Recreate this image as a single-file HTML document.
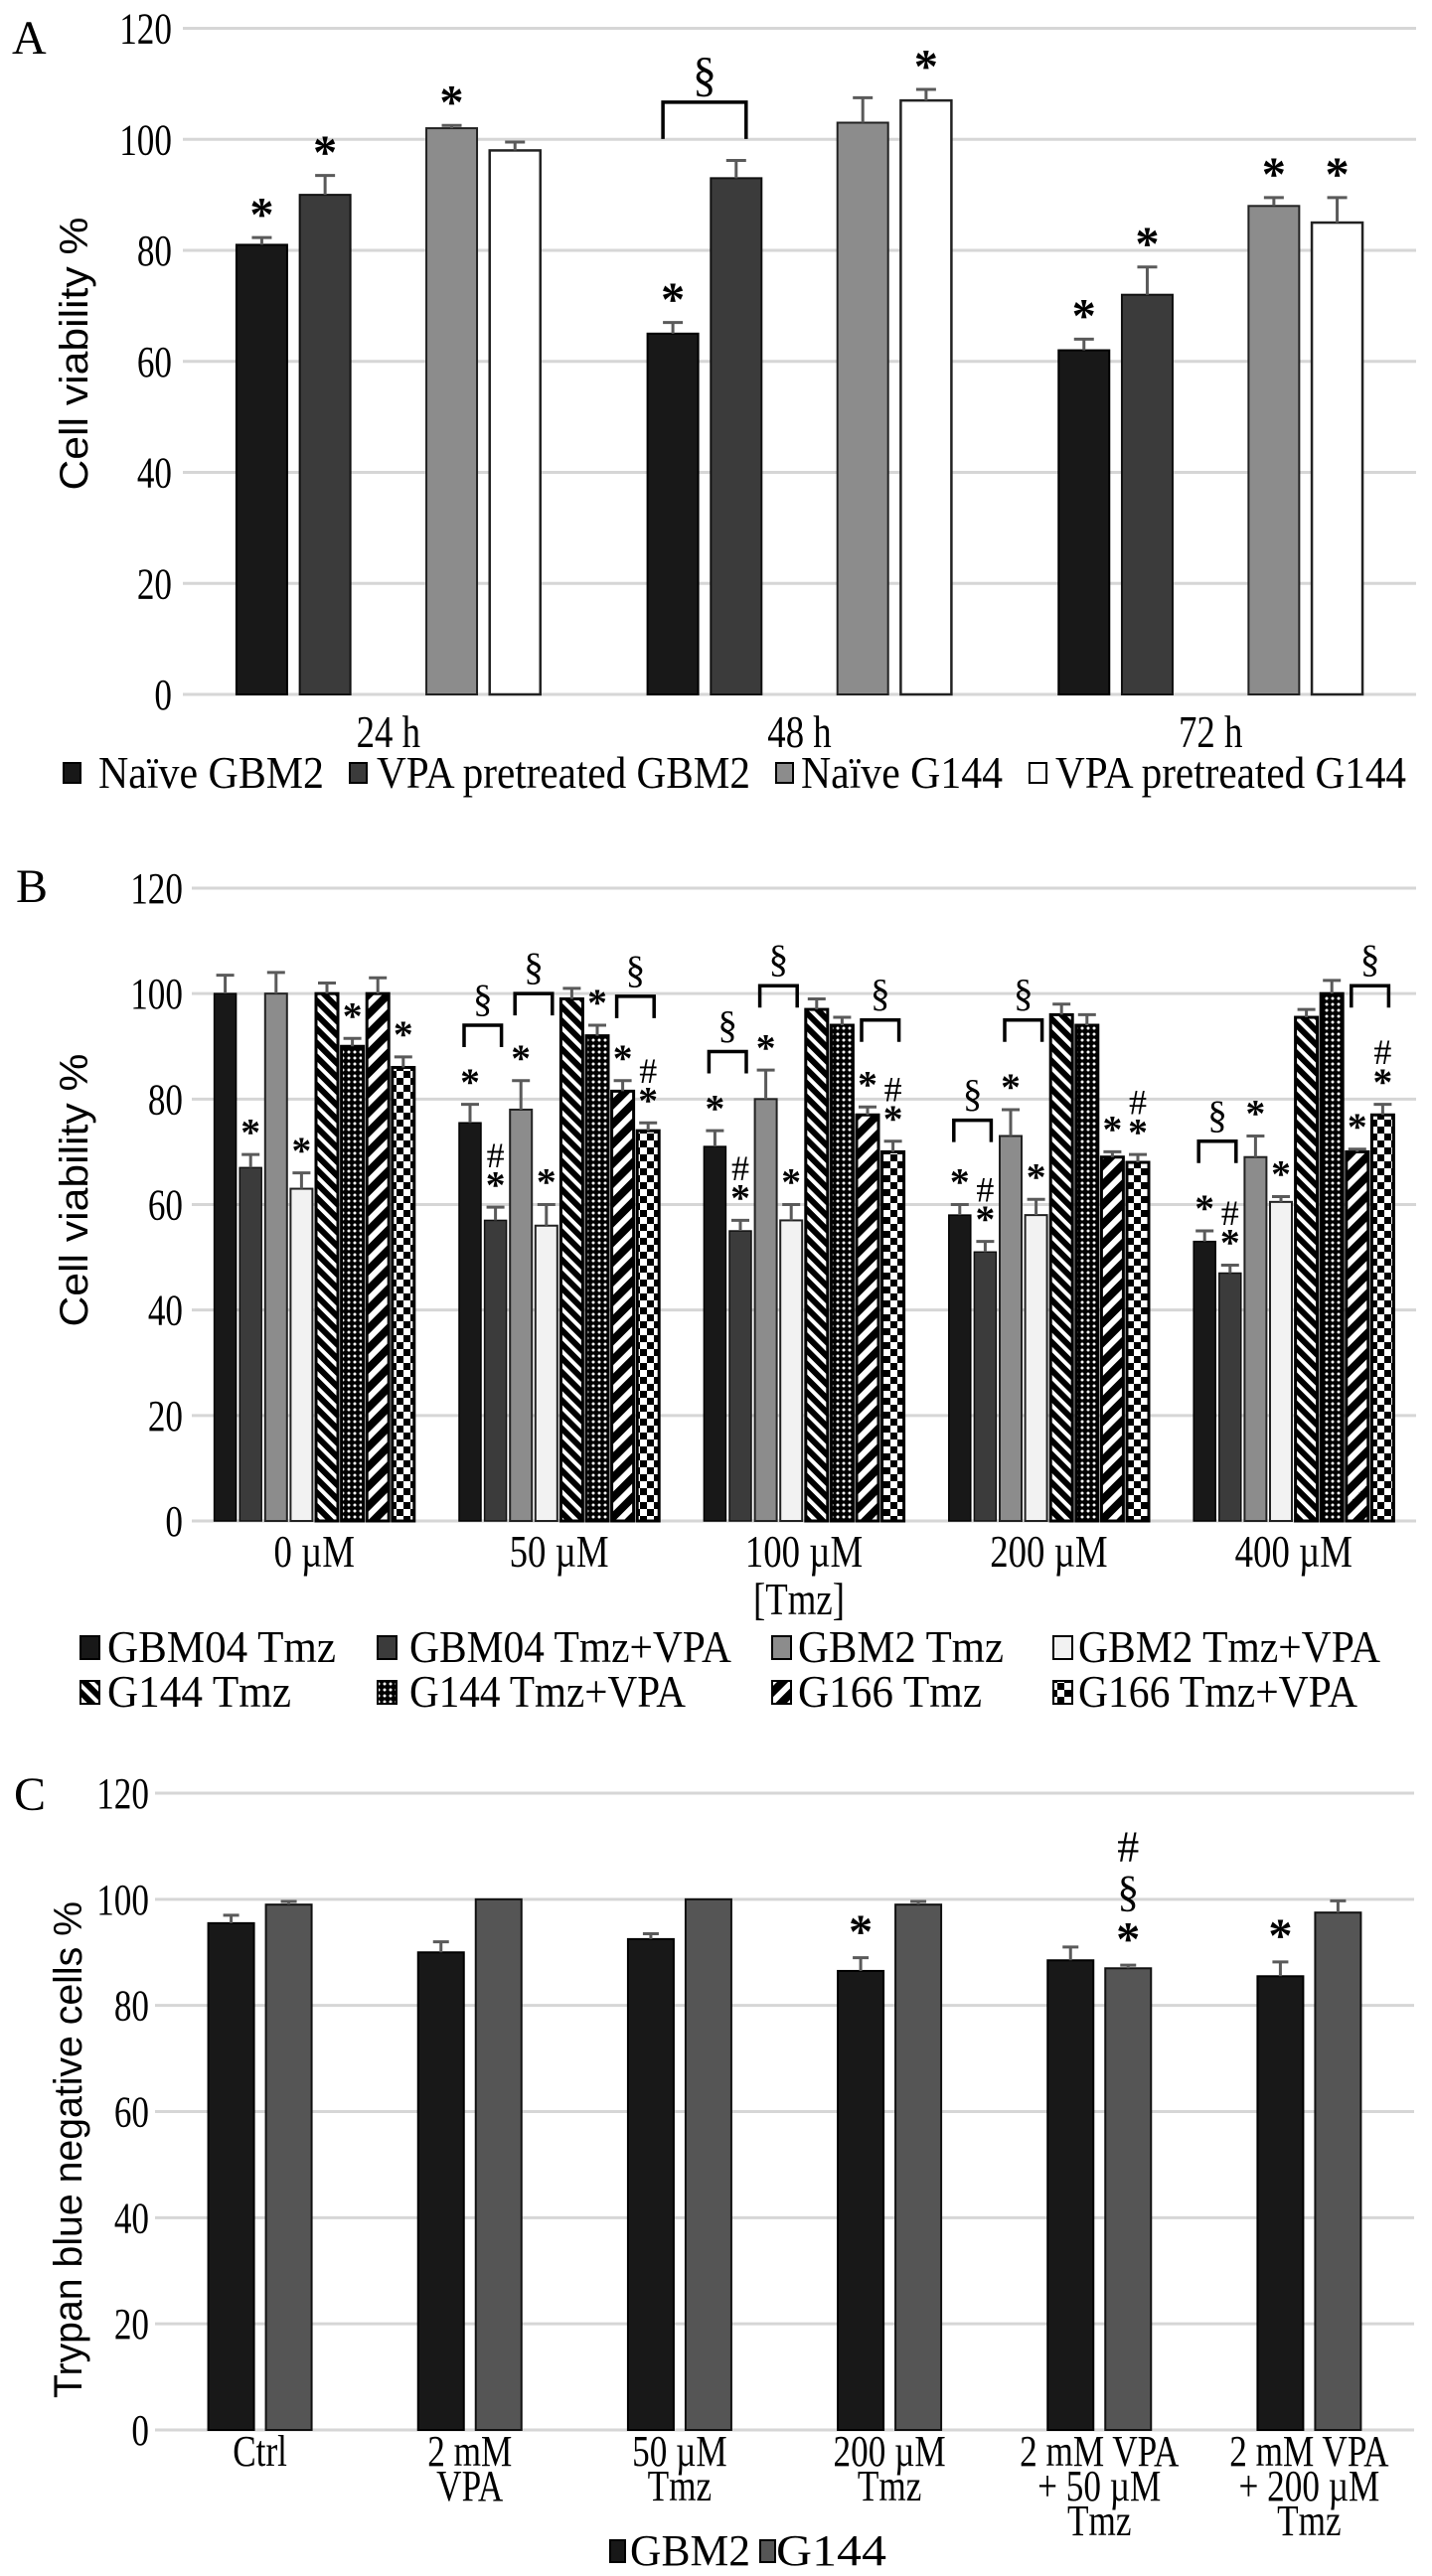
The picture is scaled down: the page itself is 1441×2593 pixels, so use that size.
<!DOCTYPE html>
<html><head><meta charset="utf-8">
<style>
html,body{margin:0;padding:0;background:#fff;}
svg{display:block;}
text{font-family:"Liberation Serif",serif;fill:#000;}
.yt{font-family:"Liberation Sans",sans-serif;}
</style></head>
<body>
<svg id="fig" width="1441" height="2593" viewBox="0 0 1441 2593" xmlns="http://www.w3.org/2000/svg">
<defs>
<pattern id="pG144" patternUnits="userSpaceOnUse" width="10" height="10" patternTransform="rotate(-45)"><rect width="10" height="10" fill="#fff"/><rect width="6" height="10" fill="#000"/></pattern>
<pattern id="pG144V" patternUnits="userSpaceOnUse" width="6" height="6"><rect width="6" height="6" fill="#000"/><circle cx="3" cy="3" r="1.5" fill="#fff"/></pattern>
<pattern id="pG166" patternUnits="userSpaceOnUse" width="14" height="14" patternTransform="rotate(45)"><rect width="14" height="14" fill="#fff"/><rect width="8" height="14" fill="#000"/></pattern>
<pattern id="pG166V" patternUnits="userSpaceOnUse" width="14" height="14" x="0" y="0"><rect width="14" height="14" fill="#fff"/><rect width="7" height="7" fill="#000"/><rect x="7" y="7" width="7" height="7" fill="#000"/></pattern>
</defs>
<text x="12" y="54" font-size="48">A</text>
<text x="16" y="908" font-size="48">B</text>
<text x="14" y="1822" font-size="48">C</text>
</svg>
<script>
// ---------- Panel A data ----------
const aCategories = ["24 h", "48 h", "72 h"];
const aSeries = ["Naïve GBM2", "VPA pretreated  GBM2", "", "Naïve G144", "VPA pretreated  G144"];
const aNaiveGBM2 = [81, 65, 62];
const aVpaGBM2 = [90, 93, 72];
const aNaiveG144 = [102, 103, 88];
const aVpaG144 = [98, 107, 85];
const aErrNaiveGBM2 = [1.3, 2, 2];
const aErrVpaGBM2 = [3.5, 3.2, 5];
const aErrNaiveG144 = [0.5, 4.5, 1.5];
const aErrVpaG144 = [1.5, 2, 4.5];
const aTicks = [0, 20, 40, 60, 80, 100, 120];
const aMarks = [[0,0,"*"],[0,1,"*"],[0,3,"*"],[1,0,"*"],[1,4,"*"],[2,0,"*"],[2,1,"*"],[2,3,"*"],[2,4,"*"]];
const aBrackets = [[1,0,1,106.7]];

// ---------- Panel B data ----------
const bCategories = ["0 µM", "50 µM", "100 µM", "200 µM", "400 µM"];
const bSeries = ["GBM04 Tmz","GBM04 Tmz+VPA","GBM2 Tmz","GBM2 Tmz+VPA","G144 Tmz","G144 Tmz+VPA","G166 Tmz","G166 Tmz+VPA"];
const bGBM04 = [100, 75.5, 71, 58, 53];
const bGBM04V = [67, 57, 55, 51, 47];
const bGBM2 = [100, 78, 80, 73, 69];
const bGBM2V = [63, 56, 57, 58, 60.5];
const bG144 = [100, 99, 97, 96, 95.5];
const bG144V = [90, 92, 94, 94, 100];
const bG166 = [100, 81.5, 77, 69, 70];
const bG166V = [86, 74, 70, 68, 77];
const bErrGBM04 = [3.5, 3.5, 3, 2, 2];
const bErrGBM04V = [2.5, 2.5, 2, 2, 1.5];
const bErrGBM2 = [4, 5.5, 5.5, 5, 4];
const bErrGBM2V = [3, 4, 3, 3, 1];
const bErrG144 = [2, 2, 2, 2, 1.5];
const bErrG144V = [1.5, 2, 1.5, 2, 2.5];
const bErrG166 = [3, 2, 1.5, 1, 0.5];
const bErrG166V = [2, 1.5, 2, 1.5, 2];
const bTicks = [0, 20, 40, 60, 80, 100, 120];
const bMarks = [
 [0,1,"*"],[0,3,"*"],[0,5,"*"],[0,7,"*"],
 [1,0,"*"],[1,1,"*#"],[1,2,"*"],[1,3,"*"],[1,5,"*"],[1,6,"*"],[1,7,"*#"],
 [2,0,"*"],[2,1,"*#"],[2,2,"*"],[2,3,"*"],[2,6,"*"],[2,7,"*#"],
 [3,0,"*"],[3,1,"*#"],[3,2,"*"],[3,3,"*"],[3,6,"*"],[3,7,"*#"],
 [4,0,"*"],[4,1,"*#"],[4,2,"*"],[4,3,"*"],[4,6,"*"],[4,7,"*#"]
];
const bBrackets = [[1,0,1,94],[1,2,3,100],[1,6,7,99.5],[2,0,1,89],[2,2,3,101.5],[2,6,7,95],[3,0,1,76],[3,2,3,95],[4,0,1,72],[4,6,7,101.5]];

// ---------- Panel C data ----------
const cCategories = [["Ctrl"],["2 mM","VPA"],["50 µM","Tmz"],["200 µM","Tmz"],["2 mM VPA","+ 50 µM","Tmz"],["2 mM VPA","+ 200 µM","Tmz"]];
const cSeries = ["GBM2", "G144"];
const cGBM2 = [95.5, 90, 92.5, 86.5, 88.5, 85.5];
const cG144 = [99, 100, 100, 99, 87, 97.5];
const cErrGBM2 = [1.5, 2, 1, 2.5, 2.5, 2.7];
const cErrG144 = [0.6, 0, 0, 0.6, 0.6, 2.2];
const cTicks = [0, 20, 40, 60, 80, 100, 120];
const cMarks = [[3,0,"*"],[4,1,"*§#"],[5,0,"*"]];

const svg = document.getElementById('fig');
const NS = 'http://www.w3.org/2000/svg';
const SX = 0.8; // horizontal condensation of serif labels
function mk(tag, attrs, parent) {
  const e = document.createElementNS(NS, tag);
  for (const k in attrs) e.setAttribute(k, attrs[k]);
  (parent || svg).appendChild(e);
  return e;
}
function ctext(parent, x, y, fs, anchor, str) {
  const t = mk('text', {x: 0, y: 0, 'font-size': fs, 'text-anchor': anchor, transform: `translate(${x},${y}) scale(${SX},1)`}, parent);
  t.textContent = str;
  return t;
}

function panel(cfg) {
  const g = mk('g', {});
  
  
  const y = v => cfg.y0 - (v / 120) * (cfg.y0 - cfg.y120);
  const gw = (cfg.x1 - cfg.x0) / cfg.nCat;
  const slotW = cfg.slotW, barW = cfg.barW;
  const xSlot = (c, s) => cfg.x0 + gw * c + gw / 2 + (s - (cfg.nSlots - 1) / 2) * slotW;
  cfg.ticks.forEach(t => {
    const l = mk('line', {x1: cfg.x0, x2: cfg.x1, y1: y(t), y2: y(t), stroke: '#d6d6d6', 'stroke-width': 3}, g);
    
    
    const tx = ctext(g, cfg.tickX, y(t) + 15, 44, 'end', t);
    
    
  });
  const yt = mk('text', {class: 'yt', x: 0, y: 0, 'font-size': 40, 'text-anchor': 'middle', textLength: cfg.titleLen, lengthAdjust: 'spacingAndGlyphs', transform: `translate(${cfg.titleX},${cfg.titleY}) rotate(-90)`}, g);
  yt.textContent = cfg.title;
  
  
  cfg.series.forEach((s) => {
    s.vals.forEach((v, c) => {
      const cx = xSlot(c, s.slot);
      const r = mk('rect', {x: cx - barW / 2, y: y(v), width: barW, height: y(0) - y(v), fill: s.fill, stroke: s.stroke, 'stroke-width': s.sw}, g);
      
      
      const e = s.errs[c];
      if (e > 0) {
        const el = mk('path', {d: `M${cx} ${y(v)}V${y(v + e)}M${cx - cfg.cap} ${y(v + e)}H${cx + cfg.cap}`, stroke: '#5a5a5a', 'stroke-width': 3, fill: 'none'}, g);
        
        
      }
    });
  });
  cfg.marks.forEach(m => {
    const [c, slot, str] = m;
    const s = cfg.series.find(q => q.slot === slot);
    const top = y(s.vals[c] + s.errs[c]);
    const cx = xSlot(c, slot);
    [...str].forEach((ch, k) => {
      const cy = top - cfg.markGap - k * cfg.markStep;
      const isStar = ch === '*';
      const t = mk('text', {x: cx, y: cy + (isStar ? cfg.markFs * 0.45 : cfg.markFs * 0.35), 'font-size': isStar ? cfg.markFs * 1.1 : cfg.markFs, 'font-weight': isStar ? 'bold' : 'normal', 'text-anchor': 'middle'}, g);
      t.textContent = ch;
      
      
    });
  });
  cfg.brackets.forEach(b => {
    const [c, s1, s2, v] = b;
    const xa = xSlot(c, s1) - cfg.brPad, xb = xSlot(c, s2) + cfg.brPad;
    const p = mk('path', {d: `M${xa} ${y(v) + cfg.brLeg}V${y(v)}H${xb}V${y(v) + cfg.brLeg}`, stroke: '#000', 'stroke-width': 3.5, fill: 'none'}, g);
    
    
    const t = mk('text', {x: (xa + xb) / 2, y: y(v) - cfg.secGap, 'font-size': cfg.markFs * 1.1, 'text-anchor': 'middle'}, g);
    t.textContent = '§';
    
    
  });
  cfg.cats.forEach((lab, c) => {
    const lines = Array.isArray(lab) ? lab : [lab];
    lines.forEach((ln, k) => {
      const t = ctext(g, cfg.x0 + gw * c + gw / 2, cfg.catY + k * cfg.catStep, cfg.catFs, 'middle', ln);
      
      
    });
  });
  return g;
}

panel({
  name: 'panel-a-chart', x0: 184, x1: 1425, y0: 699, y120: 28.5, nCat: 3, nSlots: 5, slotW: 63.7, barW: 51, cap: 10,
  ticks: aTicks, tickX: 173, title: 'Cell viability %', titleX: 88, titleY: 356, titleLen: 275,
  series: [
    {key: 'naive-gbm2', slot: 0, vals: aNaiveGBM2, errs: aErrNaiveGBM2, fill: '#181818', stroke: '#000', sw: 2},
    {key: 'vpa-gbm2', slot: 1, vals: aVpaGBM2, errs: aErrVpaGBM2, fill: '#3b3b3b', stroke: '#111', sw: 2},
    {key: 'naive-g144', slot: 3, vals: aNaiveG144, errs: aErrNaiveG144, fill: '#8c8c8c', stroke: '#222', sw: 2},
    {key: 'vpa-g144', slot: 4, vals: aVpaG144, errs: aErrVpaG144, fill: '#ffffff', stroke: '#222', sw: 2.5}
  ],
  marks: aMarks, markGap: 27, markStep: 30, markFs: 44, brackets: aBrackets, brPad: 10, brLeg: 37, secGap: 12,
  cats: aCategories, catY: 752, catStep: 0, catFs: 46
});

panel({
  name: 'panel-b-chart', x0: 193, x1: 1425, y0: 1531, y120: 894, nCat: 5, nSlots: 8, slotW: 25.6, barW: 22, cap: 9,
  ticks: bTicks, tickX: 184, title: 'Cell viability %', titleX: 88, titleY: 1198, titleLen: 275,
  series: [
    {key: 'gbm04-tmz', slot: 0, vals: bGBM04, errs: bErrGBM04, fill: '#181818', stroke: '#000', sw: 1.5},
    {key: 'gbm04-tmz-vpa', slot: 1, vals: bGBM04V, errs: bErrGBM04V, fill: '#3b3b3b', stroke: '#111', sw: 1.5},
    {key: 'gbm2-tmz', slot: 2, vals: bGBM2, errs: bErrGBM2, fill: '#8c8c8c', stroke: '#222', sw: 2},
    {key: 'gbm2-tmz-vpa', slot: 3, vals: bGBM2V, errs: bErrGBM2V, fill: '#f2f2f2', stroke: '#222', sw: 2},
    {key: 'g144-tmz', slot: 4, vals: bG144, errs: bErrG144, fill: 'url(#pG144)', stroke: '#000', sw: 3},
    {key: 'g144-tmz-vpa', slot: 5, vals: bG144V, errs: bErrG144V, fill: 'url(#pG144V)', stroke: '#000', sw: 3},
    {key: 'g166-tmz', slot: 6, vals: bG166, errs: bErrG166, fill: 'url(#pG166)', stroke: '#000', sw: 3},
    {key: 'g166-tmz-vpa', slot: 7, vals: bG166V, errs: bErrG166V, fill: 'url(#pG166V)', stroke: '#000', sw: 3}
  ],
  marks: bMarks, markGap: 26, markStep: 27, markFs: 36, brackets: bBrackets, brPad: 6, brLeg: 22, secGap: 14,
  cats: bCategories, catY: 1577, catStep: 0, catFs: 46
});

panel({
  name: 'panel-c-chart', x0: 156, x1: 1423, y0: 2446, y120: 1805, nCat: 6, nSlots: 2, slotW: 58, barW: 46, cap: 8,
  ticks: cTicks, tickX: 150, title: 'Trypan blue negative cells %', titleX: 82, titleY: 2164, titleLen: 500,
  series: [
    {key: 'gbm2', slot: 0, vals: cGBM2, errs: cErrGBM2, fill: '#181818', stroke: '#000', sw: 2},
    {key: 'g144', slot: 1, vals: cG144, errs: cErrG144, fill: '#555555', stroke: '#111', sw: 2}
  ],
  marks: cMarks, markGap: 30, markStep: 45, markFs: 44, brackets: [], brPad: 0, brLeg: 0, secGap: 0,
  cats: cCategories, catY: 2482, catStep: 35, catFs: 44
});

const tmz = ctext(svg, 804, 1625, 46, 'middle', '[Tmz]');



function legendItem(sx, sy, sw, sh, fill, tx, ty, txtEnd, label, fs, name) {
  const g = mk('g', {});
  
  
  mk('rect', {x: sx, y: sy, width: sw, height: sh, fill: fill, stroke: '#000', 'stroke-width': 2}, g);
  const t = mk('text', {x: tx, y: ty, 'font-size': fs, textLength: txtEnd - tx, lengthAdjust: 'spacingAndGlyphs'}, g);
  t.textContent = label;
}
const aLegX = [[64, 99, 326], [352, 379, 755], [781, 806, 1009], [1036, 1062, 1415]];
const aLegFill = ['#181818', '#3b3b3b', '#8c8c8c', '#ffffff'];
const aLegLabels = ['Naïve GBM2', 'VPA pretreated  GBM2', 'Naïve G144', 'VPA pretreated  G144'];
aLegLabels.forEach((lab, i) => legendItem(aLegX[i][0], 768, 17, 20, aLegFill[i], aLegX[i][1], 793, aLegX[i][2], lab, 46, 'legend-entry-a'));

const bLegX = [[81, 108, 338], [380, 412, 736], [777, 803, 1010], [1060, 1085, 1389], [81, 108, 293], [380, 412, 690], [777, 803, 988], [1060, 1085, 1366]];
const bLegFill = ['#181818', '#3b3b3b', '#8c8c8c', '#f2f2f2', 'url(#pG144)', 'url(#pG144V)', 'url(#pG166)', 'url(#pG166V)'];
bSeries.forEach((lab, i) => {
  const row = i < 4 ? 0 : 1;
  legendItem(bLegX[i][0], 1647 + row * 45, 19, 23, bLegFill[i], bLegX[i][1], 1673 + row * 45, bLegX[i][2], lab, 46, 'legend-entry-b');
});

const cLegX = [[614, 634, 755], [765, 781, 892]];
const cLegFill = ['#181818', '#555555'];
cSeries.forEach((lab, i) => legendItem(cLegX[i][0], 2557, 15, 22, cLegFill[i], cLegX[i][1], 2582, cLegX[i][2], lab, 44, 'legend-entry-c'));
</script>
</body></html>
